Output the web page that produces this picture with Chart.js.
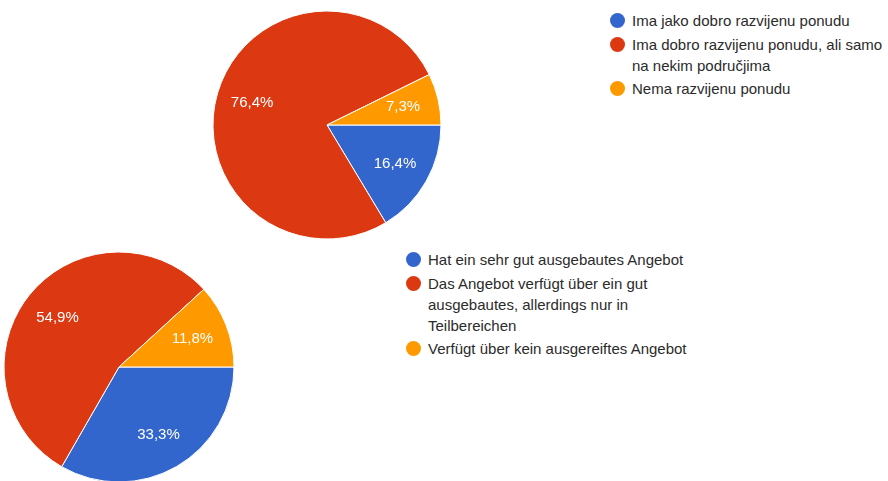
<!DOCTYPE html>
<html lang="hr">
<head>
    <meta charset="UTF-8">
    <title>Pie</title>
    <script src="https://cdn.jsdelivr.net/npm/chart.js"></script>
    <style>
        html, body { margin: 0; padding: 0; background: #fff; overflow: hidden; }
        body { width: 888px; height: 481px; position: relative; font-family: "Liberation Sans", Arial, sans-serif; }
        canvas { position: absolute; }
        #pieTop { left: 207px; top: 5px; }
        #pieBottom { left: -1px; top: 247px; }
        .legenda { position: absolute; font-size: 15px; line-height: 21px; color: #2b2b2b; }
        .item { position: relative; padding-left: 22px; margin-bottom: 2.5px; white-space: nowrap; }
        .item span.ponto { position: absolute; left: 0; top: 3px; width: 15px; height: 15px; border-radius: 50%; }
        #legendaTop { left: 610px; top: 10px; }
        #legendaBottom { left: 406px; top: 249px; }
    </style>
</head>
<body>
    <canvas id="pieTop" width="240" height="240"></canvas>
    <canvas id="pieBottom" width="240" height="240"></canvas>
    <div class="legenda" id="legendaTop"></div>
    <div class="legenda" id="legendaBottom"></div>

<script>
    const cores = ['#3366cc', '#dc3912', '#ff9900'];

    const labelsTop = [
        ['Ima jako dobro razvijenu ponudu'],
        ['Ima dobro razvijenu ponudu, ali samo', 'na nekim područjima'],
        ['Nema razvijenu ponudu']
    ];
    const valoresTop = [16.4, 76.4, 7.3];

    const labelsBottom = [
        ['Hat ein sehr gut ausgebautes Angebot'],
        ['Das Angebot verfügt über ein gut', 'ausgebautes, allerdings nur in', 'Teilbereichen'],
        ['Verfügt über kein ausgereiftes Angebot']
    ];
    const valoresBottom = [33.3, 54.9, 11.8];

    // percentagem dentro de cada fatia
    const rotulos = {
        id: 'rotulos',
        afterDatasetsDraw(chart) {
            const ctx = chart.ctx;
            const valores = chart.data.datasets[0].data;
            ctx.save();
            ctx.fillStyle = '#ffffff';
            ctx.font = '15px "Liberation Sans", Arial, sans-serif';
            ctx.textAlign = 'center';
            ctx.textBaseline = 'middle';
            chart.getDatasetMeta(0).data.forEach((arc, i) => {
                const p = arc.getProps(['x', 'y', 'startAngle', 'endAngle', 'outerRadius'], true);
                const meio = (p.startAngle + p.endAngle) / 2;
                const r = p.outerRadius * 0.685;
                const texto = valores[i].toFixed(1).replace('.', ',') + '%';
                ctx.fillText(texto, p.x + Math.cos(meio) * r, p.y + Math.sin(meio) * r);
            });
            ctx.restore();
        }
    };

    function plotarPie(id, labels, valores, raio) {
        return new Chart(document.getElementById(id), {
            type: 'pie',
            data: {
                labels: labels.map(l => l.join(' ')),
                datasets: [{
                    data: valores,
                    backgroundColor: cores,
                    borderColor: '#ffffff',
                    borderWidth: 1,
                    hoverOffset: 0
                }]
            },
            options: {
                responsive: false,
                animation: false,
                rotation: 90,
                radius: raio,
                layout: { padding: 0 },
                plugins: {
                    legend: { display: false },
                    tooltip: { enabled: false }
                }
            },
            plugins: [rotulos]
        });
    }

    function montarLegenda(id, labels) {
        const div = document.getElementById(id);
        labels.forEach((linhas, i) => {
            const item = document.createElement('div');
            item.className = 'item';
            const ponto = document.createElement('span');
            ponto.className = 'ponto';
            ponto.style.backgroundColor = cores[i];
            item.appendChild(ponto);
            linhas.forEach((linha, j) => {
                if (j > 0) item.appendChild(document.createElement('br'));
                item.appendChild(document.createTextNode(linha));
            });
            div.appendChild(item);
        });
    }

    plotarPie('pieTop', labelsTop, valoresTop, 114);
    plotarPie('pieBottom', labelsBottom, valoresBottom, 115);
    montarLegenda('legendaTop', labelsTop);
    montarLegenda('legendaBottom', labelsBottom);
</script>
</body>
</html>
